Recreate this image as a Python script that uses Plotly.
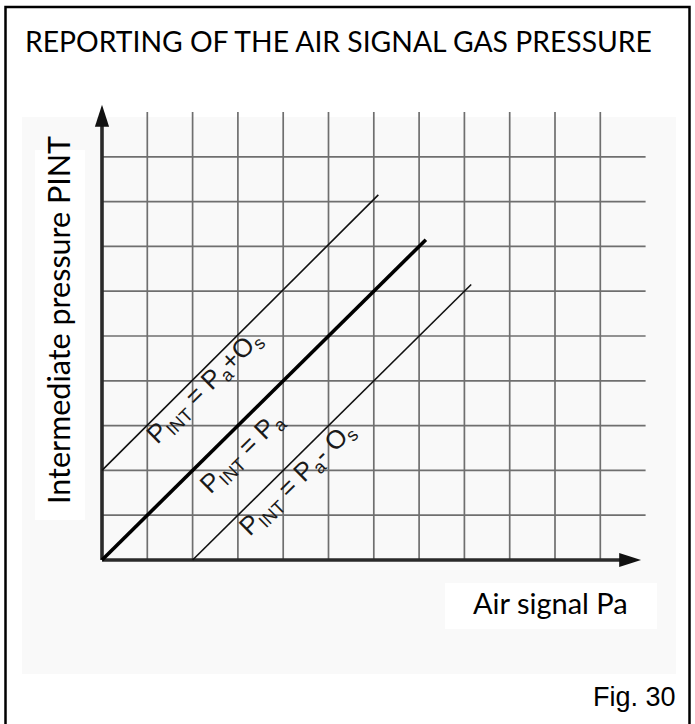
import plotly.graph_objects as go

W, H = 695, 724

# ---- chart data (grid units) ----
grid_cols = [1, 2, 3, 4, 5, 6, 7, 8, 9, 10, 11]      # vertical grid lines
grid_rows = [1, 2, 3, 4, 5, 6, 7, 8, 9]              # horizontal grid lines
grid_top = 10                                        # vertical lines reach this height
grid_right = 12                                      # horizontal lines reach this x
axis_x_end = 11.9                                    # tip of the Pa axis arrow
axis_y_end = 10.16                                   # tip of the PINT axis arrow

# PINT = Pa (reference line)
pa_x = [0.0, 7.15]
pa_y = [0.0, 7.15]
# PINT = Pa + Os
plus_x = [0.0, 6.10]
plus_y = [2.0, 8.15]
# PINT = Pa - Os
minus_x = [2.0, 8.15]
minus_y = [0.0, 6.15]

label_plus = "P<sub>INT</sub> = P<sub>a</sub>+O<sub>s</sub>"
label_pa = "P<sub>INT</sub> = P<sub>a</sub>"
label_minus = "P<sub>INT</sub> = P<sub>a</sub>- O<sub>s</sub>"
label_pos = {"plus": (2.27, 3.84), "pa": (3.10, 2.40), "minus": (4.31, 1.80)}

title_text = "REPORTING OF THE AIR SIGNAL GAS PRESSURE"
y_title = "Intermediate pressure PINT"
x_title = "Air signal Pa"
fig_tag = "Fig. 30"

# ---- pixel layout of the drawing ----
X0_PX, Y0_PX = 102, 560          # origin of the diagram in page pixels
UX, UY = 45.3, 44.8              # pixels per grid unit
x_range = [-X0_PX / UX, (W - X0_PX) / UX]
y_range = [-(H - Y0_PX) / UY, Y0_PX / UY]


def px(x):
    return x / W


def py(y):
    return 1 - y / H


fig = go.Figure()

# grid
vx, vy = [], []
for c in grid_cols:
    vx += [c, c, None]
    vy += [0, grid_top, None]
hx, hy = [], []
for r in grid_rows:
    hx += [0, grid_right, None]
    hy += [r, r, None]
grid_style = dict(color="#6f6f6f", width=1.7)
fig.add_trace(go.Scatter(x=vx, y=vy, mode="lines", line=grid_style, hoverinfo="skip"))
fig.add_trace(go.Scatter(x=hx, y=hy, mode="lines", line=grid_style, hoverinfo="skip"))

# axes with arrowheads
axis_style = dict(color="#2a2a2a", width=3.6)
fig.add_trace(go.Scatter(x=[0, 0], y=[0, axis_y_end - 0.3], mode="lines", line=axis_style))
fig.add_trace(go.Scatter(x=[0, axis_x_end - 0.3], y=[0, 0], mode="lines", line=axis_style))
fig.add_trace(go.Scatter(x=[0], y=[axis_y_end], mode="markers",
                         marker=dict(symbol="arrow", size=23, angle=0, color="#111",
                                     line=dict(width=0))))
fig.add_trace(go.Scatter(x=[axis_x_end], y=[0], mode="markers",
                         marker=dict(symbol="arrow", size=23, angle=90, color="#111",
                                     line=dict(width=0))))

# characteristic lines
fig.add_trace(go.Scatter(x=plus_x, y=plus_y, mode="lines", line=dict(color="#111", width=1.6)))
fig.add_trace(go.Scatter(x=pa_x, y=pa_y, mode="lines", line=dict(color="#000", width=3.6)))
fig.add_trace(go.Scatter(x=minus_x, y=minus_y, mode="lines", line=dict(color="#111", width=1.6)))

angle = -44.7
lab_font = dict(family="Liberation Sans, Arial, sans-serif", size=26, color="#1a1a1a")
for key, txt in (("plus", label_plus), ("pa", label_pa), ("minus", label_minus)):
    lx, ly = label_pos[key]
    fig.add_annotation(x=lx, y=ly, xref="x", yref="y", text=txt, showarrow=False,
                       textangle=angle, font=lab_font, xanchor="center", yanchor="middle")

# text blocks
fig.add_annotation(x=px(23), y=py(41), xref="paper", yref="paper", text=title_text,
                   showarrow=False, xanchor="left", yanchor="middle",
                   font=dict(family="Lato, sans-serif", size=28.3, color="#000"))
fig.add_annotation(x=px(58), y=py(320), xref="paper", yref="paper", text=y_title,
                   showarrow=False, textangle=-90, xanchor="center", yanchor="middle",
                   font=dict(family="Lato, sans-serif", size=30.5, color="#000"))
fig.add_annotation(x=px(630), y=py(602), xref="paper", yref="paper", text=x_title,
                   showarrow=False, xanchor="right", yanchor="middle",
                   font=dict(family="Lato, sans-serif", size=29, color="#000"))
fig.add_annotation(x=px(678), y=py(697), xref="paper", yref="paper", text=fig_tag,
                   showarrow=False, xanchor="right", yanchor="middle",
                   font=dict(family="Liberation Sans, Arial, sans-serif", size=27, color="#000"))

shapes = [
    # light panel behind the diagram
    dict(type="rect", xref="paper", yref="paper", x0=px(22), x1=px(676), y0=py(674), y1=py(117),
         fillcolor="#f9f9f9", line=dict(width=0), layer="below"),
    dict(type="rect", xref="paper", yref="paper", x0=px(35), x1=px(85), y0=py(520), y1=py(150),
         fillcolor="#ffffff", line=dict(width=0), layer="below"),
    dict(type="rect", xref="paper", yref="paper", x0=px(445), x1=px(657), y0=py(629), y1=py(583),
         fillcolor="#ffffff", line=dict(width=0), layer="below"),
    # outer frame
    dict(type="rect", xref="paper", yref="paper", x0=px(5.5), x1=px(689.5), y0=py(740), y1=py(7),
         line=dict(color="#000", width=2.5), fillcolor="rgba(0,0,0,0)", layer="above"),
]

fig.update_layout(
    width=W, height=H, margin=dict(l=0, r=0, t=0, b=0),
    paper_bgcolor="#ffffff", plot_bgcolor="rgba(0,0,0,0)",
    showlegend=False, shapes=shapes,
    xaxis=dict(range=x_range, visible=False, fixedrange=True),
    yaxis=dict(range=y_range, visible=False, fixedrange=True),
)

fig.write_html("out.html", config={"displayModeBar": False})
